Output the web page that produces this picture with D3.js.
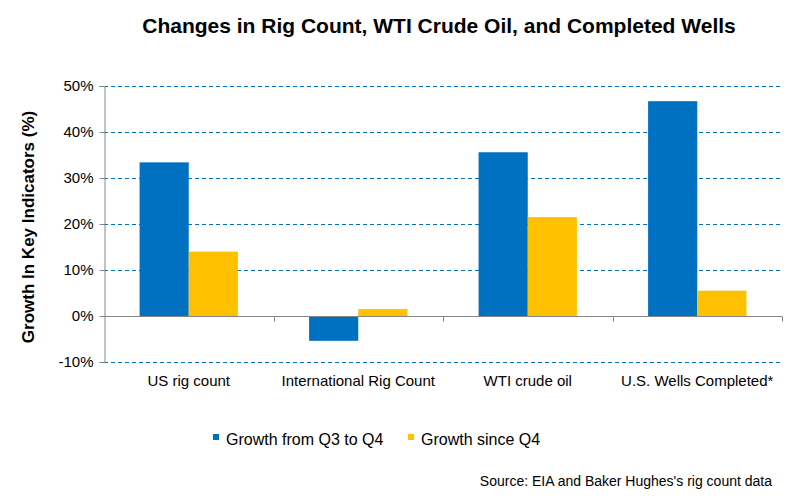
<!DOCTYPE html>
<html>
<head>
<meta charset="utf-8">
<script src="https://cdn.jsdelivr.net/npm/d3@7"></script>
<style>
  body { margin: 0; background: #fff; }
  text { font-family: "Liberation Sans", Arial, sans-serif; fill: #000; }
</style>
</head>
<body>
<div id="chart"></div>
<script>
// data
const categories = ["US rig count", "International Rig Count", "WTI crude oil", "U.S. Wells Completed*"];
const seriesNames = ["Growth from Q3 to Q4", "Growth since Q4"];
const q3ToQ4 = [33.4, -5.4, 35.6, 46.7];
const sinceQ4 = [14.0, 1.5, 21.5, 5.5];
const yTicks = [-10, 0, 10, 20, 30, 40, 50];
const colors = ["#0070C0", "#FFC000"];

const width = 797, height = 500;
const plot = { left: 104, right: 782, top: 86, bottom: 362 };

const svg = d3.select("#chart").append("svg")
  .attr("width", width)
  .attr("height", height);

const x = d3.scaleBand()
  .domain(categories)
  .range([plot.left, plot.right])
  .paddingInner(0.42)
  .paddingOuter(0.21);

const xInner = d3.scaleBand()
  .domain(seriesNames)
  .range([0, x.bandwidth()]);

const y = d3.scaleLinear()
  .domain([-10, 50])
  .range([plot.bottom, plot.top]);

// gridlines
svg.append("g")
  .selectAll("line")
  .data(yTicks.filter(d => d !== 0))
  .join("line")
  .attr("x1", plot.left)
  .attr("x2", plot.right)
  .attr("y1", d => Math.round(y(d)) + 0.5)
  .attr("y2", d => Math.round(y(d)) + 0.5)
  .attr("stroke", "#0070C0")
  .attr("stroke-width", 1)
  .attr("stroke-dasharray", "4,3");

// bars
const rows = categories.map((c, i) => ({ cat: c, vals: [q3ToQ4[i], sinceQ4[i]] }));
svg.append("g")
  .selectAll("g")
  .data(rows)
  .join("g")
  .attr("transform", d => `translate(${x(d.cat)},0)`)
  .selectAll("rect")
  .data(d => d.vals.map((v, j) => ({ v, j })))
  .join("rect")
  .attr("x", d => xInner(seriesNames[d.j]))
  .attr("width", xInner.bandwidth())
  .attr("y", d => y(Math.max(0, d.v)))
  .attr("height", d => Math.abs(y(d.v) - y(0)))
  .attr("fill", d => colors[d.j]);

// y axis
const yAxis = svg.append("g")
  .attr("transform", `translate(${plot.left + 0.5},0)`)
  .call(d3.axisLeft(y).tickValues(yTicks).tickSize(5).tickPadding(6).tickFormat(d => d + "%"));
yAxis.select(".domain").attr("stroke", "#868686");
yAxis.selectAll(".tick line").attr("stroke", "#868686");
yAxis.selectAll(".tick text").attr("font-size", 15).style("font-family", "Liberation Sans, Arial, sans-serif");

// x axis at zero
const xAxisG = svg.append("g")
  .attr("transform", `translate(0,${Math.round(y(0)) + 0.5})`);
xAxisG.append("line")
  .attr("x1", plot.left)
  .attr("x2", plot.right)
  .attr("stroke", "#868686");
const boundaries = categories.map((c, i) => plot.left + (i + 1) * (plot.right - plot.left) / categories.length);
xAxisG.selectAll("line.tk")
  .data(boundaries)
  .join("line")
  .attr("class", "tk")
  .attr("x1", d => Math.round(d) + 0.5)
  .attr("x2", d => Math.round(d) + 0.5)
  .attr("y1", 0)
  .attr("y2", 5)
  .attr("stroke", "#868686");

// category labels
svg.append("g")
  .selectAll("text")
  .data(categories)
  .join("text")
  .attr("x", d => x(d) + x.bandwidth() / 2)
  .attr("y", 386)
  .attr("text-anchor", "middle")
  .attr("font-size", 15)
  .text(d => d);

// title
svg.append("text")
  .attr("x", 439)
  .attr("y", 33)
  .attr("text-anchor", "middle")
  .attr("font-size", 21)
  .attr("font-weight", "bold")
  .text("Changes in Rig Count, WTI Crude Oil, and Completed Wells");

// y axis title
svg.append("text")
  .attr("transform", `translate(34,${(plot.top + plot.bottom) / 2 + 3}) rotate(-90)`)
  .attr("text-anchor", "middle")
  .attr("font-size", 17)
  .attr("font-weight", "bold")
  .text("Growth In Key Indicators (%)");

// legend
const legendX = [213, 408];
const legend = svg.append("g")
  .selectAll("g")
  .data(seriesNames)
  .join("g")
  .attr("transform", (d, i) => `translate(${legendX[i]},440)`);
legend.append("rect")
  .attr("x", 0)
  .attr("y", -6)
  .attr("width", 6)
  .attr("height", 6)
  .attr("fill", (d, i) => colors[i]);
legend.append("text")
  .attr("x", 13)
  .attr("y", 5)
  .attr("font-size", 16)
  .text(d => d);

// source note
svg.append("text")
  .attr("x", 772)
  .attr("y", 486)
  .attr("text-anchor", "end")
  .attr("font-size", 14)
  .text("Source: EIA and Baker Hughes's rig count data");
</script>
</body>
</html>
